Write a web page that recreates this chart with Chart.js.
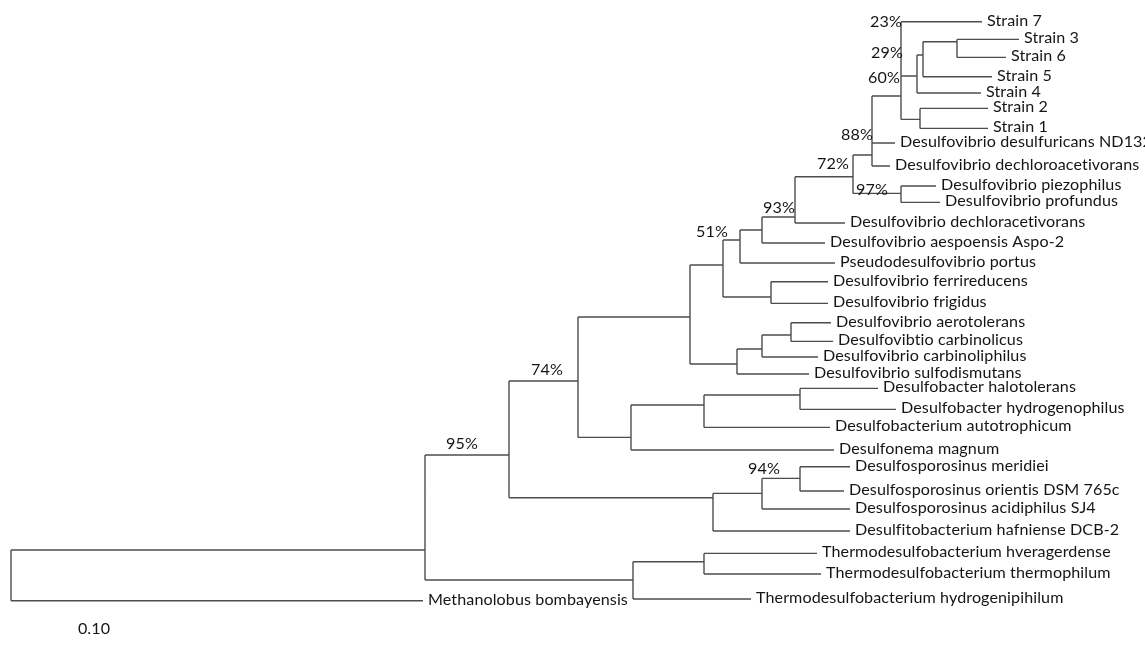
<!DOCTYPE html>
<html>
<head>
<meta charset="utf-8">
<script src="https://cdn.jsdelivr.net/npm/chart.js@4.4.1/dist/chart.umd.min.js"></script>
<style>
  html, body { margin: 0; padding: 0; background: #fff; }
  #wrap { width: 1145px; height: 648px; position: relative; }
</style>
</head>
<body>
<div id="wrap"><canvas id="tree"></canvas></div>
<script>
// internal nodes: depth from the root, and the row where the branch from the parent comes in
const cladeIds     = ['R', 'A', 'B', 'T1', 'T2', 'C', 'Dsp', 'N94', 'MO', 'DB', 'DB2', 'DB3', 'Dv', 'Dsulf', 'carb', 'aero', 'N51', 'FF', 'NP', 'NX', 'N93', 'N72', 'N97', 'N0', 'N1', 'N2', 'N12', 'N3', 'N36'];
const cladeParents = [null, 'R', 'A', 'A', 'T1', 'B', 'B', 'Dsp', 'N94', 'C', 'DB', 'DB2', 'C', 'Dv', 'Dsulf', 'carb', 'Dv', 'N51', 'N51', 'NP', 'NX', 'N93', 'N72', 'N72', 'N0', 'N1', 'N1', 'N2', 'N3'];
const cladeDepths  = [0.001, 0.415, 0.499, 0.623, 0.694, 0.568, 0.703, 0.752, 0.790, 0.621, 0.694, 0.790, 0.680, 0.727, 0.752, 0.781, 0.713, 0.761, 0.730, 0.752, 0.785, 0.843, 0.891, 0.862, 0.891, 0.907, 0.910, 0.913, 0.947];
const cladeRows    = [null, 27.5, 22.75, 29.0, 28.09, 19.05, 24.89, 24.67, 23.92, 21.87, 20.25, 19.75, 15.85, 18.2, 17.45, 16.75, 13.25, 14.85, 12.0, 11.5, 10.85, 8.84, 9.67, 7.75, 4.8, 3.8, 5.97, 2.75, 2.09];

const leafNames = [
  'Strain 7', 'Strain 3', 'Strain 6', 'Strain 5', 'Strain 4', 'Strain 2', 'Strain 1',
  'Desulfovibrio desulfuricans ND132', 'Desulfovibrio dechloroacetivorans',
  'Desulfovibrio piezophilus', 'Desulfovibrio profundus', 'Desulfovibrio dechloracetivorans',
  'Desulfovibrio aespoensis Aspo-2', 'Pseudodesulfovibrio portus',
  'Desulfovibrio ferrireducens', 'Desulfovibrio frigidus', 'Desulfovibrio aerotolerans',
  'Desulfovibtio carbinolicus', 'Desulfovibrio carbinoliphilus', 'Desulfovibrio sulfodismutans',
  'Desulfobacter halotolerans', 'Desulfobacter hydrogenophilus', 'Desulfobacterium autotrophicum',
  'Desulfonema magnum', 'Desulfosporosinus meridiei', 'Desulfosporosinus orientis DSM 765c',
  'Desulfosporosinus acidiphilus SJ4', 'Desulfitobacterium hafniense DCB-2',
  'Thermodesulfobacterium hveragerdense', 'Thermodesulfobacterium thermophilum',
  'Thermodesulfobacterium hydrogenipihilum', 'Methanolobus bombayensis'
];
const leafParents = ['N1', 'N36', 'N36', 'N3', 'N2', 'N12', 'N12', 'N0', 'N0', 'N97', 'N97', 'N93', 'NX', 'NP', 'FF', 'FF', 'aero', 'aero', 'carb', 'Dsulf', 'DB3', 'DB3', 'DB2', 'DB', 'MO', 'MO', 'N94', 'Dsp', 'T2', 'T2', 'T1', 'R'];
const leafDepths  = [0.972, 1.009, 0.996, 0.982, 0.971, 0.978, 0.978, 0.885, 0.880, 0.926, 0.930, 0.835, 0.815, 0.825, 0.818, 0.818, 0.821, 0.823, 0.808, 0.799, 0.868, 0.886, 0.820, 0.824, 0.840, 0.834, 0.840, 0.840, 0.807, 0.811, 0.741, 0.413];
const leafRows    = [1.09, 1.97, 2.87, 3.84, 4.65, 5.42, 6.42, 7.15, 8.3, 9.3, 10.12, 11.15, 12.15, 13.15, 14.09, 15.17, 16.14, 17.07, 17.85, 18.7, 19.42, 20.47, 21.37, 22.5, 23.34, 24.55, 25.45, 26.55, 27.67, 28.7, 29.95, 30.04];

// bootstrap values, where they sit on the figure
const supportValues = ['23%', '29%', '60%', '88%', '72%', '97%', '93%', '51%', '74%', '95%', '94%'];
const supportDepths = [0.876, 0.877, 0.874, 0.847, 0.823, 0.862, 0.769, 0.702, 0.537, 0.452, 0.754];
const supportRows   = [1.1, 2.65, 3.9, 6.75, 8.2, 9.5, 10.38, 11.6, 18.5, 22.2, 23.45];

const scaleText  = '0.10';
const scaleDepth = 0.084;
const scaleRow   = 31.45;

// build the rectangular branches
const nodes = {};
cladeIds.forEach((id, i) => {
  nodes[id] = { depth: cladeDepths[i], row: cladeRows[i], kids: [] };
});
cladeIds.forEach((id, i) => {
  if (cladeParents[i]) nodes[cladeParents[i]].kids.push(nodes[id]);
});
leafNames.forEach((name, i) => {
  nodes[leafParents[i]].kids.push({ depth: leafDepths[i], row: leafRows[i] });
});

const branchPoints = [];
Object.values(nodes).forEach(n => {
  const rows = n.kids.map(k => k.row);
  if (n.row !== null) rows.push(n.row);
  branchPoints.push({ x: n.depth, y: Math.min(...rows) }, { x: n.depth, y: Math.max(...rows) }, { x: n.depth, y: null });
  n.kids.forEach(k => {
    branchPoints.push({ x: n.depth, y: k.row }, { x: k.depth, y: k.row }, { x: k.depth, y: null });
  });
});

const FONT = '16.1px Lato';

const treeLabels = {
  id: 'treeLabels',
  afterDatasetsDraw(chart) {
    const { ctx, scales: { x, y } } = chart;
    ctx.save();
    ctx.fillStyle = '#151515';
    ctx.font = FONT;
    ctx.letterSpacing = '0.1px'; // stops Lato's "ti" ligature
    ctx.textBaseline = 'middle';
    ctx.textAlign = 'left';
    leafNames.forEach((name, i) => {
      ctx.fillText(name, x.getPixelForValue(leafDepths[i]) + 5, y.getPixelForValue(leafRows[i]) - 1.5);
    });
    ctx.textAlign = 'center';
    supportValues.forEach((txt, i) => {
      ctx.fillText(txt, x.getPixelForValue(supportDepths[i]), y.getPixelForValue(supportRows[i]));
    });
    ctx.fillText(scaleText, x.getPixelForValue(scaleDepth), y.getPixelForValue(scaleRow));
    ctx.restore();
  }
};

new Chart(document.getElementById('tree'), {
  type: 'scatter',
  data: {
    datasets: [{
      data: branchPoints,
      showLine: true,
      spanGaps: false,
      borderColor: '#4d4d4d',
      borderWidth: 1.4,
      pointRadius: 0,
      pointHoverRadius: 0,
    }]
  },
  options: {
    responsive: true,
    maintainAspectRatio: false,
    animation: false,
    layout: { padding: 0 },
    plugins: { legend: { display: false }, tooltip: { enabled: false } },
    scales: {
      x: { type: 'linear', min: -0.01, max: 1.135, display: false },
      y: { type: 'linear', min: 0, max: 32.4, reverse: true, display: false }
    }
  },
  plugins: [treeLabels]
});
</script>
</body>
</html>
